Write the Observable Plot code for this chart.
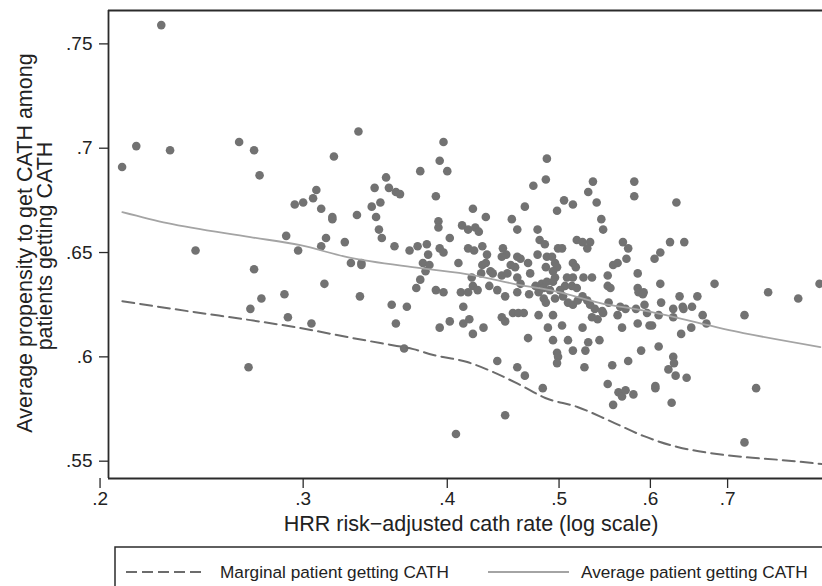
<!DOCTYPE html>
<html><head><meta charset="utf-8">
<script src="https://cdn.jsdelivr.net/npm/d3@7"></script>
<script src="https://cdn.jsdelivr.net/npm/@observablehq/plot@0.6"></script>
<style>
html,body{margin:0;padding:0;background:#fff;overflow:hidden;}
#wrap{position:relative;width:822px;height:586px;font-family:"Liberation Sans",Arial,sans-serif;}
#chart svg{display:block;}
</style></head><body><div id="wrap"><div id="chart"></div><div id="legend"></div></div>
<script>
// HRR risk-adjusted cath rate (x) and average propensity (y) for each HRR
const points = [
[.226,.759],[.209,.691],[.215,.701],[.230,.699],[.264,.703],[.272,.699],[.275,.687],[.295,.673],[.290,.658],[.242,.651],
[.297,.651],[.272,.642],[.276,.628],[.270,.623],[.289,.630],[.291,.619],[.269,.595],[.335,.708],[.319,.696],[.354,.686],
[.379,.689],[.308,.680],[.346,.681],[.356,.681],[.361,.679],[.364,.678],[.300,.674],[.306,.676],[.311,.671],[.344,.672],
[.350,.674],[.318,.667],[.318,.666],[.334,.668],[.347,.667],[.314,.657],[.311,.653],[.326,.655],[.349,.661],[.351,.657],
[.360,.653],[.371,.651],[.377,.653],[.330,.645],[.337,.645],[.337,.644],[.379,.637],[.376,.633],[.313,.635],[.336,.629],
[.358,.625],[.369,.624],[.305,.616],[.361,.616],[.367,.604],[.397,.703],[.394,.694],[.400,.689],[.391,.677],[.421,.671],
[.432,.667],[.455,.666],[.393,.665],[.393,.662],[.412,.663],[.417,.661],[.423,.662],[.426,.660],[.402,.657],[.460,.661],
[.384,.654],[.385,.649],[.394,.652],[.397,.650],[.417,.652],[.422,.651],[.429,.653],[.433,.649],[.447,.652],[.450,.649],
[.446,.648],[.460,.648],[.381,.645],[.386,.644],[.383,.641],[.409,.645],[.429,.644],[.432,.645],[.454,.644],[.428,.640],
[.436,.641],[.438,.640],[.446,.639],[.451,.640],[.458,.643],[.460,.638],[.420,.638],[.435,.634],[.442,.632],[.449,.629],
[.460,.631],[.391,.632],[.397,.631],[.411,.631],[.417,.631],[.421,.634],[.425,.632],[.413,.624],[.446,.619],[.449,.617],
[.456,.621],[.461,.621],[.418,.618],[.413,.616],[.402,.617],[.394,.614],[.421,.611],[.430,.614],[.442,.598],[.460,.595],
[.449,.572],[.407,.563],[.488,.695],[.487,.685],[.475,.682],[.535,.684],[.530,.679],[.505,.675],[.514,.673],[.498,.670],
[.467,.672],[.539,.674],[.544,.666],[.546,.661],[.479,.661],[.481,.656],[.486,.654],[.499,.652],[.503,.652],[.518,.656],
[.524,.655],[.532,.655],[.529,.652],[.463,.647],[.470,.645],[.479,.649],[.488,.648],[.487,.643],[.472,.640],[.463,.635],
[.471,.630],[.477,.634],[.483,.635],[.488,.636],[.480,.631],[.485,.628],[.466,.621],[.480,.620],[.489,.614],[.568,.655],
[.574,.652],[.572,.647],[.557,.644],[.562,.645],[.551,.639],[.551,.634],[.554,.633],[.493,.648],[.496,.645],[.498,.643],
[.514,.645],[.517,.643],[.525,.638],[.534,.638],[.508,.638],[.514,.638],[.494,.641],[.496,.638],[.494,.636],[.485,.633],
[.506,.634],[.513,.634],[.518,.633],[.491,.632],[.501,.632],[.496,.628],[.504,.629],[.509,.626],[.514,.625],[.519,.627],
[.524,.629],[.529,.627],[.532,.625],[.537,.623],[.545,.622],[.552,.626],[.565,.624],[.571,.623],[.487,.626],[.494,.620],
[.546,.621],[.534,.619],[.540,.618],[.503,.615],[.524,.614],[.562,.620],[.470,.609],[.494,.608],[.509,.608],[.514,.603],
[.527,.603],[.530,.607],[.542,.608],[.498,.602],[.499,.600],[.498,.597],[.467,.591],[.526,.595],[.556,.596],[.484,.585],
[.551,.587],[.557,.577],[.581,.684],[.581,.677],[.632,.674],[.605,.647],[.612,.650],[.624,.655],[.642,.655],[.585,.640],
[.612,.635],[.682,.635],[.759,.631],[.806,.628],[.841,.635],[.585,.633],[.586,.631],[.592,.631],[.591,.630],[.636,.629],
[.659,.629],[.583,.623],[.593,.625],[.596,.621],[.613,.626],[.610,.620],[.628,.623],[.628,.619],[.640,.624],[.641,.623],
[.652,.624],[.666,.620],[.671,.616],[.724,.620],[.567,.614],[.585,.616],[.599,.615],[.602,.615],[.638,.611],[.651,.614],
[.589,.603],[.610,.605],[.574,.598],[.628,.600],[.629,.597],[.622,.594],[.631,.591],[.645,.590],[.606,.586],[.606,.585],
[.563,.583],[.567,.581],[.571,.584],[.580,.582],[.626,.578],[.741,.585],[.724,.559]
];

// Average patient getting CATH (solid)
const avgX = [.2091,.2288,.2700,.2983,.3276,.3791,.4205,.4628,.4913,.5539,.5764,.7224,.8424];
const avgY = [.6694,.6641,.6574,.6535,.6478,.6425,.6392,.6344,.6320,.6248,.6234,.6114,.6047];
// Marginal patient getting CATH (dashed)
const margX = [.2091,.2410,.2700,.2983,.3276,.3500,.3738,.3890,.4163,.4385,.4628,.4865,.5186,.5539,.5916,.6332,.6763,.7224,.7778,.8458];
const margY = [.6267,.6215,.6176,.6138,.6095,.6066,.6037,.6009,.5975,.5927,.5865,.5803,.5760,.5692,.5621,.5568,.5539,.5520,.5506,.5486];

const xTicks = [.2,.3,.4,.5,.6,.7];
const yTicks = [.55,.6,.65,.7,.75];
const xTitle = "HRR risk\u2212adjusted cath rate (log scale)";
const yTitle = ["Average propensity to get CATH among", "patients getting CATH"];
const legendLabels = ["Marginal patient getting CATH", "Average patient getting CATH"];

const xMin = 0.2034, xMax = 0.846, yMin = 0.5417, yMax = 0.766;
const fmt = d => String(d).replace(/^0\./, ".");
const avgData = avgX.map((x, i) => ({x, y: avgY[i]}));
const margData = margX.map((x, i) => ({x, y: margY[i]}));
const axisColor = "#2b2b2b";

const chart = Plot.plot({
  width: 822, height: 540,
  marginLeft: 108, marginRight: 0, marginTop: 10, marginBottom: 62,
  x: {type: "log", domain: [xMin, xMax]},
  y: {domain: [yMin, yMax]},
  style: {fontFamily: "'Liberation Sans', Arial, sans-serif", fontSize: "19px", color: "#222", background: "white", overflow: "visible"},
  marks: [
    Plot.dot(points, {x: d => d[0], y: d => d[1], r: 4.3, fill: "#727272", stroke: "none"}),
    Plot.line(margData, {x: "x", y: "y", stroke: "#6c6c6c", strokeWidth: 2, strokeDasharray: "12,6", curve: "monotone-x"}),
    Plot.line(avgData, {x: "x", y: "y", stroke: "#a4a4a4", strokeWidth: 1.8, curve: "monotone-x"}),
    Plot.ruleX([xMin], {stroke: axisColor, strokeWidth: 1.8}),
    Plot.ruleY([yMin, yMax], {x1: xMin, x2: xMax, stroke: axisColor, strokeWidth: 1.8}),
    Plot.axisX({ticks: xTicks, tickFormat: fmt, tickSize: 10, tickPadding: 3, fontSize: 19, label: null, stroke: axisColor, strokeWidth: 1.3}),
    Plot.axisY({ticks: yTicks, tickFormat: fmt, tickSize: 9, tickPadding: 7, fontSize: 19, label: null, stroke: axisColor, strokeWidth: 1.3})
  ]
});
document.getElementById("chart").appendChild(chart);

const svg = d3.select(chart);
// enforce tick label size
svg.selectAll('g[aria-label="x-axis tick label"], g[aria-label="y-axis tick label"]')
  .style("font-size", "19px").selectAll("text").style("font-size", "19px");

const tf = "'Liberation Sans', Arial, sans-serif";
svg.append("text").attr("x", 471).attr("y", 531).attr("text-anchor", "middle")
  .attr("font-family", tf).style("font-size", "21.5px").attr("fill", "#222").text(xTitle);
[32, 52].forEach((bx, i) => {
  svg.append("text").attr("transform", `translate(${bx},${i === 0 ? 243 : 246}) rotate(-90)`)
    .attr("text-anchor", "middle").attr("font-family", tf).style("font-size", "21.5px").attr("fill", "#222").text(yTitle[i]);
});

// Legend below the chart
const leg = d3.select("#legend").append("svg").attr("width", 822).attr("height", 46).style("display", "block");
leg.append("rect").attr("x", 115).attr("y", 7).attr("width", 730).attr("height", 60)
  .attr("fill", "none").attr("stroke", axisColor).attr("stroke-width", 1.5);
leg.append("line").attr("x1", 126).attr("x2", 202).attr("y1", 32).attr("y2", 32)
  .attr("stroke", "#6c6c6c").attr("stroke-width", 2).attr("stroke-dasharray", "11,5");
leg.append("text").attr("x", 220).attr("y", 37.5).attr("font-family", tf).style("font-size", "17.2px").attr("fill", "#222").text(legendLabels[0]);
leg.append("line").attr("x1", 488).attr("x2", 569).attr("y1", 32).attr("y2", 32)
  .attr("stroke", "#a4a4a4").attr("stroke-width", 2);
leg.append("text").attr("x", 581).attr("y", 37.5).attr("font-family", tf).style("font-size", "17.2px").attr("fill", "#222").text(legendLabels[1]);
</script></body></html>
